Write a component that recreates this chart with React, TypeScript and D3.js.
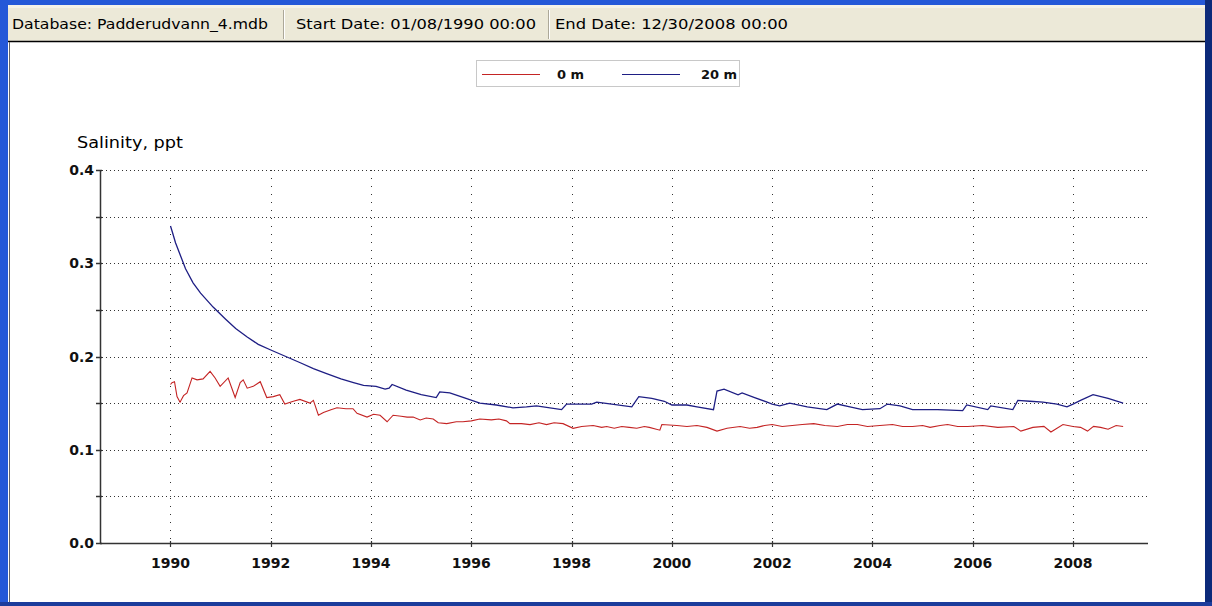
import React from "react";
import * as d3 from "d3";

const W = 1212;
const H = 606;

const statusTexts = ["Database: Padderudvann_4.mdb", "Start Date: 01/08/1990 00:00", "End Date: 12/30/2008 00:00"];
const seriesNames = ["0 m", "20 m"];
const yTickValues = [0, 0.05, 0.1, 0.15, 0.2, 0.25, 0.3, 0.35, 0.4];
const yLabelValues = [0, 0.1, 0.2, 0.3, 0.4];
const xTickYears = [1990, 1992, 1994, 1996, 1998, 2000, 2002, 2004, 2006, 2008];

const blueYears = [
  1990.0, 1990.04, 1990.1, 1990.2, 1990.3, 1990.45, 1990.6, 1990.85, 1991.1, 1991.3, 1991.53, 1991.75,
  1992.0, 1992.3, 1992.6, 1992.85, 1993.1, 1993.4, 1993.65, 1993.85, 1994.1, 1994.28, 1994.36, 1994.42,
  1994.7, 1995.0, 1995.3, 1995.37, 1995.57, 1995.85, 1996.17, 1996.5, 1996.83, 1997.1, 1997.3, 1997.8,
  1997.9, 1998.4, 1998.5, 1998.8, 1999.2, 1999.34, 1999.6, 1999.85, 2000.0, 2000.3, 2000.5, 2000.83,
  2000.9, 2001.04, 2001.32, 2001.4, 2001.65, 2001.9, 2002.0, 2002.15, 2002.35, 2002.7, 2003.09, 2003.3,
  2003.55, 2003.8, 2004.15, 2004.3, 2004.55, 2004.8, 2005.3, 2005.8, 2005.88, 2006.3, 2006.36, 2006.8,
  2006.9, 2007.14, 2007.4, 2007.68, 2007.88, 2008.0, 2008.15, 2008.4, 2008.7, 2009.0,
];
const blueValues = [
  0.34, 0.333, 0.322, 0.308, 0.294, 0.279, 0.268, 0.253, 0.24, 0.23, 0.221, 0.213,
  0.207, 0.2, 0.193, 0.187, 0.182, 0.176, 0.172, 0.169, 0.168, 0.165, 0.166, 0.17,
  0.164, 0.159, 0.156, 0.162, 0.161, 0.156, 0.15, 0.148, 0.145, 0.146, 0.147, 0.143,
  0.149, 0.149, 0.151, 0.149, 0.146, 0.157, 0.155, 0.152, 0.148, 0.148, 0.146, 0.143,
  0.163, 0.165, 0.159, 0.161, 0.156, 0.151, 0.149, 0.147, 0.15, 0.146, 0.143, 0.149,
  0.146, 0.143, 0.144, 0.149, 0.147, 0.143, 0.143, 0.142, 0.148, 0.143, 0.147, 0.143,
  0.153, 0.152, 0.151, 0.149, 0.146, 0.149, 0.153, 0.159, 0.155, 0.15,
];

const redYears = [
  1990.0, 1990.03, 1990.08, 1990.13, 1990.19, 1990.26, 1990.33, 1990.43, 1990.53, 1990.65, 1990.79, 1990.89,
  1990.99, 1991.15, 1991.29, 1991.39, 1991.45, 1991.53, 1991.65, 1991.79, 1991.92, 1992.05, 1992.18, 1992.28,
  1992.45, 1992.58, 1992.78, 1992.85, 1992.95, 1993.05, 1993.2, 1993.32, 1993.5, 1993.64, 1993.72, 1993.92,
  1994.05, 1994.18, 1994.32, 1994.44, 1994.6, 1994.72, 1994.84, 1994.98, 1995.1, 1995.24, 1995.34, 1995.51,
  1995.7, 1995.83, 1996.0, 1996.17, 1996.4, 1996.55, 1996.7, 1996.77, 1997.0, 1997.17, 1997.35, 1997.5,
  1997.65, 1997.83, 1998.03, 1998.2, 1998.43, 1998.6, 1998.7, 1998.85, 1999.0, 1999.15, 1999.3, 1999.45,
  1999.55, 1999.76, 1999.8, 2000.1, 2000.3, 2000.5, 2000.7, 2000.9, 2001.1, 2001.36, 2001.55, 2001.7,
  2001.85, 2002.0, 2002.2, 2002.4, 2002.6, 2002.83, 2003.05, 2003.3, 2003.5, 2003.7, 2003.9, 2004.15,
  2004.4, 2004.6, 2004.8, 2005.0, 2005.15, 2005.35, 2005.5, 2005.7, 2005.9, 2006.2, 2006.5, 2006.82,
  2006.96, 2007.2, 2007.42, 2007.56, 2007.8, 2008.0, 2008.15, 2008.29, 2008.41, 2008.55, 2008.7, 2008.86,
  2009.0,
];
const redValues = [
  0.17, 0.172, 0.173, 0.157, 0.151, 0.158, 0.161, 0.177, 0.175, 0.176, 0.184, 0.177,
  0.168, 0.177, 0.156, 0.172, 0.175, 0.166, 0.168, 0.173, 0.156, 0.157, 0.159, 0.149,
  0.152, 0.154, 0.15, 0.153, 0.137, 0.14, 0.143, 0.145, 0.144, 0.144, 0.139, 0.135,
  0.138, 0.137, 0.13, 0.137, 0.136, 0.135, 0.135, 0.132, 0.134, 0.133, 0.129, 0.128,
  0.13, 0.13, 0.131, 0.133, 0.132, 0.133, 0.131, 0.128, 0.128, 0.127, 0.129, 0.127,
  0.129, 0.128, 0.123, 0.125, 0.126, 0.124, 0.125, 0.123, 0.125, 0.124, 0.123, 0.125,
  0.124, 0.121, 0.127, 0.126, 0.125, 0.126, 0.124, 0.12, 0.123, 0.125, 0.123, 0.124,
  0.126, 0.127, 0.125, 0.126, 0.127, 0.128, 0.126, 0.125, 0.127, 0.127, 0.125, 0.126,
  0.127, 0.125, 0.125, 0.126, 0.124, 0.126, 0.127, 0.125, 0.125, 0.126, 0.124, 0.125,
  0.12, 0.124, 0.125, 0.119, 0.127, 0.125, 0.124, 0.12, 0.125, 0.124, 0.122, 0.126,
  0.125,
];

const RED = "#c42424";
const BLUE = "#1e1e84";

export default function App() {
  const left = 100;
  const right = 1148;
  const top = 170;
  const bottom = 543;
  const x = d3.scaleLinear().domain([1988.594, 2009.496]).range([left, right]);
  const y = d3.scaleLinear().domain([0, 0.4]).range([bottom, top]);

  const line = d3
    .line<[number, number]>()
    .x((d) => x(d[0]))
    .y((d) => y(d[1]));

  const redPts: [number, number][] = redYears.map((yr, i) => [yr, redValues[i]]);
  const bluePts: [number, number][] = blueYears.map((yr, i) => [yr, blueValues[i]]);

  const font = "DejaVu Sans, Verdana, sans-serif";

  return (
    <div style={{ position: "absolute", left: 0, top: 0, width: W, height: H }}>
      <svg width={W} height={H} style={{ display: "block" }}>
        {/* window frame */}
        <rect x={0} y={0} width={W} height={H} fill="#2458d8" />
        <rect x={1205} y={0} width={7} height={H} fill="#0c2a7a" />
        <rect x={0} y={602} width={W} height={4} fill="#1c3c9c" />
        {/* status bar */}
        <rect x={8} y={5} width={1197} height={36} fill="#ece9d8" />
        <rect x={8} y={5} width={1197} height={3} fill="#f4f2e8" />
        <line x1={283.5} y1={10} x2={283.5} y2={39} stroke="#aca899" />
        <line x1={284.5} y1={10} x2={284.5} y2={39} stroke="#ffffff" />
        <line x1={548.5} y1={10} x2={548.5} y2={39} stroke="#aca899" />
        <line x1={549.5} y1={10} x2={549.5} y2={39} stroke="#ffffff" />
        <text x={12} y={29} fontFamily={font} fontSize={14} fill="#000" textLength={256} lengthAdjust="spacingAndGlyphs">
          {statusTexts[0]}
        </text>
        <text x={296} y={29} fontFamily={font} fontSize={14} fill="#000" textLength={240} lengthAdjust="spacingAndGlyphs">
          {statusTexts[1]}
        </text>
        <text x={555} y={29} fontFamily={font} fontSize={14} fill="#000" textLength={233} lengthAdjust="spacingAndGlyphs">
          {statusTexts[2]}
        </text>
        {/* chart area */}
        <rect x={8} y={41} width={1197} height={561} fill="#ffffff" />
        <line x1={8} y1={41.5} x2={1205} y2={41.5} stroke="#000" strokeWidth={1.5} />
        <line x1={9.5} y1={42} x2={9.5} y2={602} stroke="#666" strokeWidth={1} />

        {/* legend */}
        <rect x={476.5} y={60.5} width={263} height={26} fill="#fff" stroke="#c8c8c8" />
        <line x1={482} y1={74.5} x2={540} y2={74.5} stroke={RED} strokeWidth={1.2} />
        <text x={557} y={79} fontFamily={font} fontSize={13} fontWeight="bold" fill="#111">
          {seriesNames[0]}
        </text>
        <line x1={622} y1={74.5} x2={680} y2={74.5} stroke={BLUE} strokeWidth={1.2} />
        <text x={701} y={79} fontFamily={font} fontSize={13} fontWeight="bold" fill="#111">
          {seriesNames[1]}
        </text>

        {/* y title */}
        <text x={77} y={148} fontFamily={font} fontSize={15} fill="#000" textLength={106} lengthAdjust="spacingAndGlyphs">
          Salinity, ppt
        </text>

        {/* horizontal grid */}
        {yTickValues.map((v) =>
          v === 0 ? null : (
            <line
              key={"hg" + v}
              x1={left + 2}
              x2={right}
              y1={Math.round(y(v)) + 0.5}
              y2={Math.round(y(v)) + 0.5}
              stroke="#333"
              strokeWidth={1}
              strokeDasharray="1 3"
            />
          )
        )}
        {/* vertical grid */}
        {xTickYears.map((yr) => (
          <line
            key={"vg" + yr}
            x1={Math.round(x(yr)) + 0.5}
            x2={Math.round(x(yr)) + 0.5}
            y1={top}
            y2={bottom}
            stroke="#333"
            strokeWidth={1}
            strokeDasharray="1 7"
          />
        ))}

        {/* axes */}
        <line x1={left + 0.5} x2={left + 0.5} y1={top} y2={bottom + 1} stroke="#333" strokeWidth={1.5} />
        <line x1={left} x2={right} y1={bottom + 0.5} y2={bottom + 0.5} stroke="#333" strokeWidth={1.5} />
        {yTickValues.map((v) => (
          <line
            key={"yt" + v}
            x1={left - 4}
            x2={left + 2}
            y1={Math.round(y(v)) + 0.5}
            y2={Math.round(y(v)) + 0.5}
            stroke="#333"
            strokeWidth={1.5}
          />
        ))}
        {xTickYears.map((yr) => (
          <line
            key={"xt" + yr}
            x1={Math.round(x(yr)) + 0.5}
            x2={Math.round(x(yr)) + 0.5}
            y1={bottom - 2}
            y2={bottom + 4}
            stroke="#333"
            strokeWidth={1.2}
          />
        ))}
        {yLabelValues.map((v) => (
          <text
            key={"yl" + v}
            x={left - 6}
            y={y(v) + 5}
            textAnchor="end"
            fontFamily={font}
            fontSize={14}
            fontWeight="bold"
            fill="#111"
          >
            {d3.format(".1f")(v)}
          </text>
        ))}
        {xTickYears.map((yr) => (
          <text
            key={"xl" + yr}
            x={x(yr)}
            y={568}
            textAnchor="middle"
            fontFamily={font}
            fontSize={14}
            fontWeight="bold"
            fill="#111"
          >
            {yr}
          </text>
        ))}

        {/* series */}
        <path d={line(redPts) || ""} fill="none" stroke={RED} strokeWidth={1.1} />
        <path d={line(bluePts) || ""} fill="none" stroke={BLUE} strokeWidth={1.3} />
      </svg>
    </div>
  );
}
